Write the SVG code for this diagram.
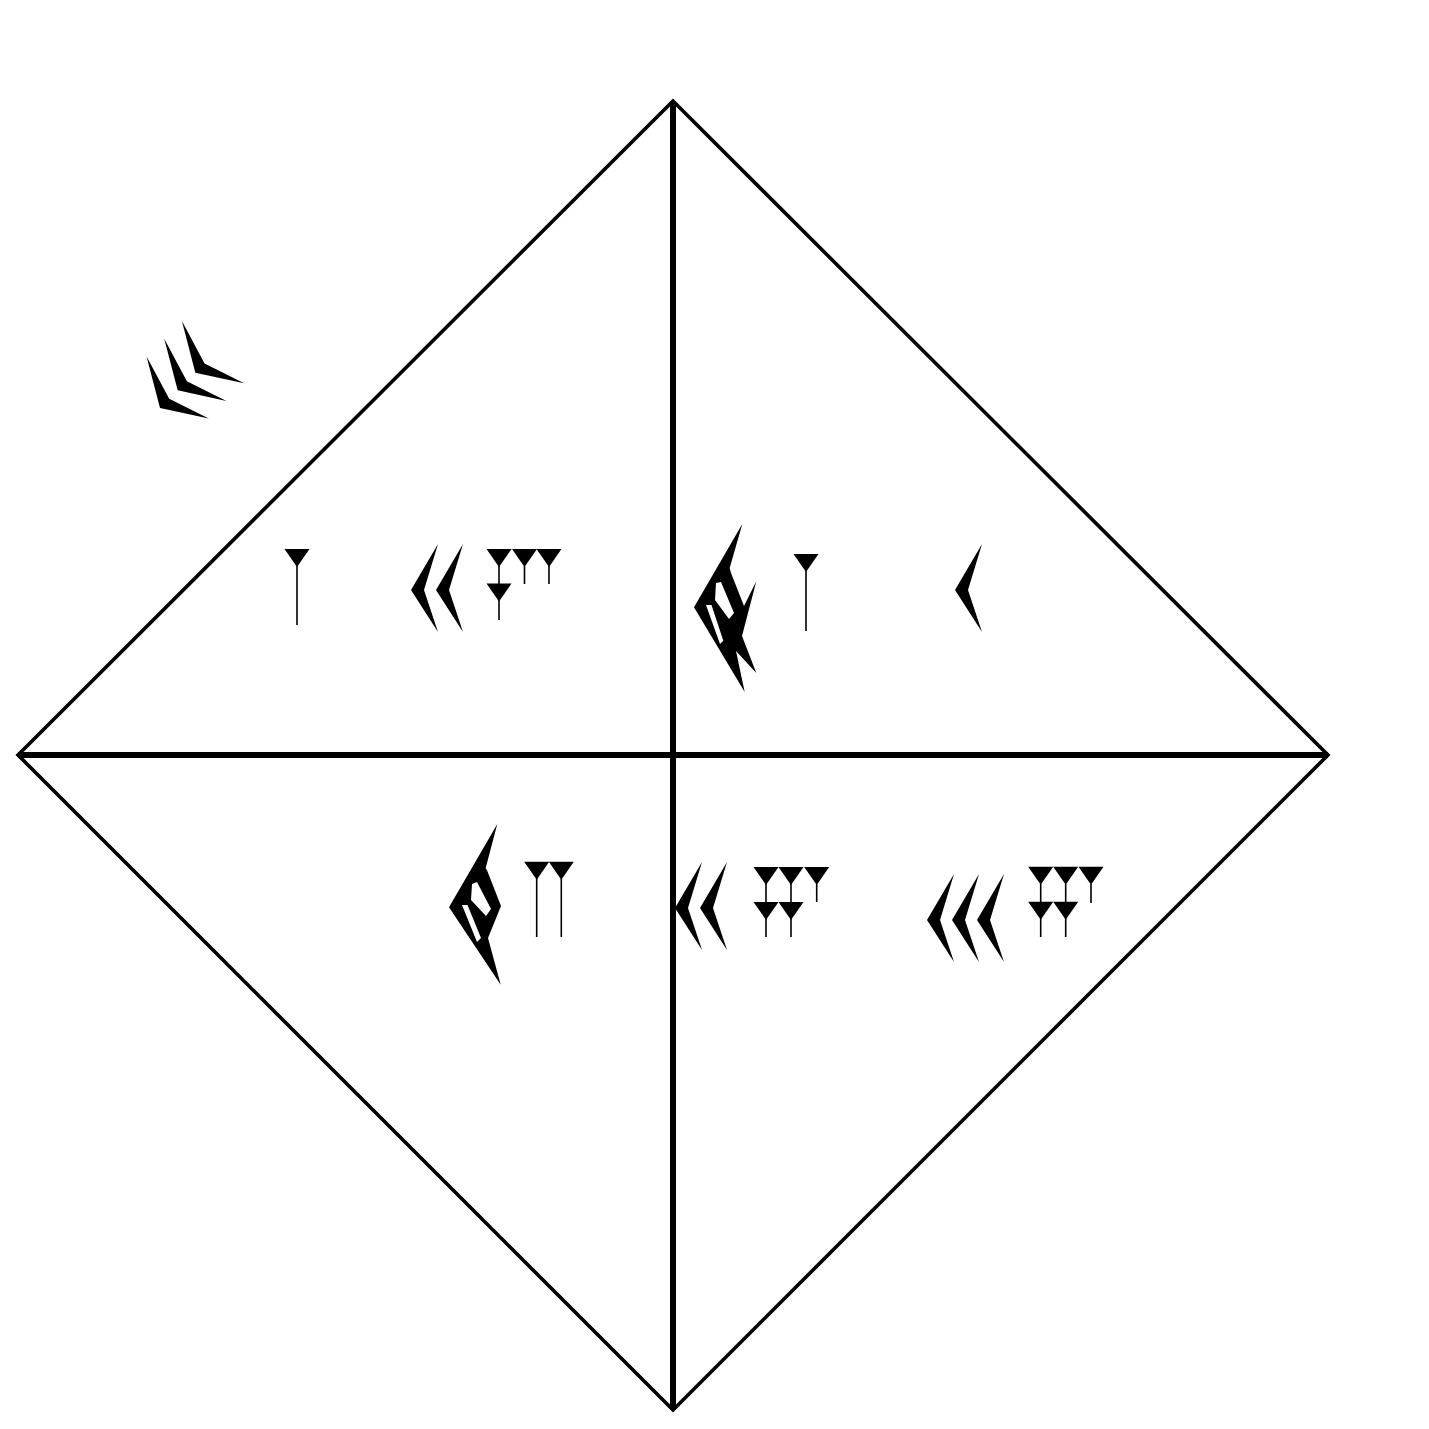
<svg xmlns="http://www.w3.org/2000/svg" width="1429" height="1429" viewBox="0 0 1429 1429">
<style>
.edge{fill:none;stroke:#000;stroke-width:3.6;stroke-linejoin:miter}
.cross{fill:none;stroke:#000;stroke-width:6}
.tail{stroke:#000;stroke-width:1.6;fill:none}
.ink{fill:#000}
.gap{fill:#fff}
</style>
<defs>
<polygon id="w" class="ink" points="-12.5,0 12.5,0 0,18"/>
<polygon id="c" class="ink" points="27,-46 0,0 27,42 13,0"/>
</defs>
<rect width="1429" height="1429" fill="#fff"/>
<g id="frame">
<polygon class="edge" points="673,101 1328,755 673,1410 18,755"/>
</g>
<g id="connectors">
<line class="cross" x1="673" y1="101" x2="673" y2="1410"/>
<line class="cross" x1="18" y1="755" x2="1328" y2="755"/>
</g>
<g id="corner-30" transform="translate(160,408) rotate(-45)">
<use href="#c" x="0" y="0"/>
<use href="#c" x="25" y="0"/>
<use href="#c" x="50" y="0"/>
</g>
<g id="top-left-1">
<use href="#w" x="297" y="549"/>
<line class="tail" x1="297" y1="566" x2="297" y2="625"/>
</g>
<g id="top-left-24">
<use href="#c" x="411" y="590"/>
<use href="#c" x="436" y="590"/>
<use href="#w" x="499" y="549"/>
<use href="#w" x="524.5" y="549"/>
<use href="#w" x="549" y="549"/>
<use href="#w" x="499" y="583.5"/>
<line class="tail" x1="499" y1="566" x2="499" y2="620"/>
<line class="tail" x1="524.5" y1="566" x2="524.5" y2="584"/>
<line class="tail" x1="549" y1="566" x2="549" y2="584"/>
</g>
<g id="top-right-51">
<polygon class="ink" points="742.3,524 729.7,568 731,573 744,606 756.3,581.3 742,636 756.3,673 736,651 744.7,692 694,607.3"/>
<polygon class="gap" points="716,583 721,582 734,613 729,619 715,600"/>
<polygon class="gap" points="706,605 711.5,605 723.3,640.7 720,644"/>
<use href="#w" x="806" y="554"/>
<line class="tail" x1="806" y1="571" x2="806" y2="631"/>
</g>
<g id="top-right-10">
<use href="#c" x="955" y="590"/>
</g>
<g id="bottom-left-42">
<polygon class="ink" points="497.3,824 485.7,868 487.3,871 501,906 488,938 500.7,984.7 449,907.3"/>
<polygon class="gap" points="472,884 477,882 491,909 486,916 471,900"/>
<polygon class="gap" points="462,905 467.5,905 481,938 477,942"/>
<use href="#w" x="536.7" y="861.7"/>
<use href="#w" x="561.3" y="861.7"/>
<line class="tail" x1="536.7" y1="878" x2="536.7" y2="937"/>
<line class="tail" x1="561.3" y1="878" x2="561.3" y2="937"/>
</g>
<g id="bottom-right-25">
<use href="#c" x="675" y="908"/>
<use href="#c" x="700" y="908"/>
<use href="#w" x="766" y="867"/>
<use href="#w" x="791" y="867"/>
<use href="#w" x="816.7" y="867"/>
<use href="#w" x="766" y="902"/>
<use href="#w" x="791" y="902"/>
<line class="tail" x1="766" y1="884" x2="766" y2="937"/>
<line class="tail" x1="791" y1="884" x2="791" y2="937"/>
<line class="tail" x1="816.7" y1="884" x2="816.7" y2="902"/>
</g>
<g id="bottom-right-35">
<use href="#c" x="927" y="920"/>
<use href="#c" x="952" y="920"/>
<use href="#c" x="977" y="920"/>
<use href="#w" x="1040.7" y="866.7"/>
<use href="#w" x="1065.7" y="866.7"/>
<use href="#w" x="1091" y="866.7"/>
<use href="#w" x="1040.7" y="901.7"/>
<use href="#w" x="1065.7" y="901.7"/>
<line class="tail" x1="1040.7" y1="884" x2="1040.7" y2="937"/>
<line class="tail" x1="1065.7" y1="884" x2="1065.7" y2="937"/>
<line class="tail" x1="1091" y1="884" x2="1091" y2="903"/>
</g>
</svg>
